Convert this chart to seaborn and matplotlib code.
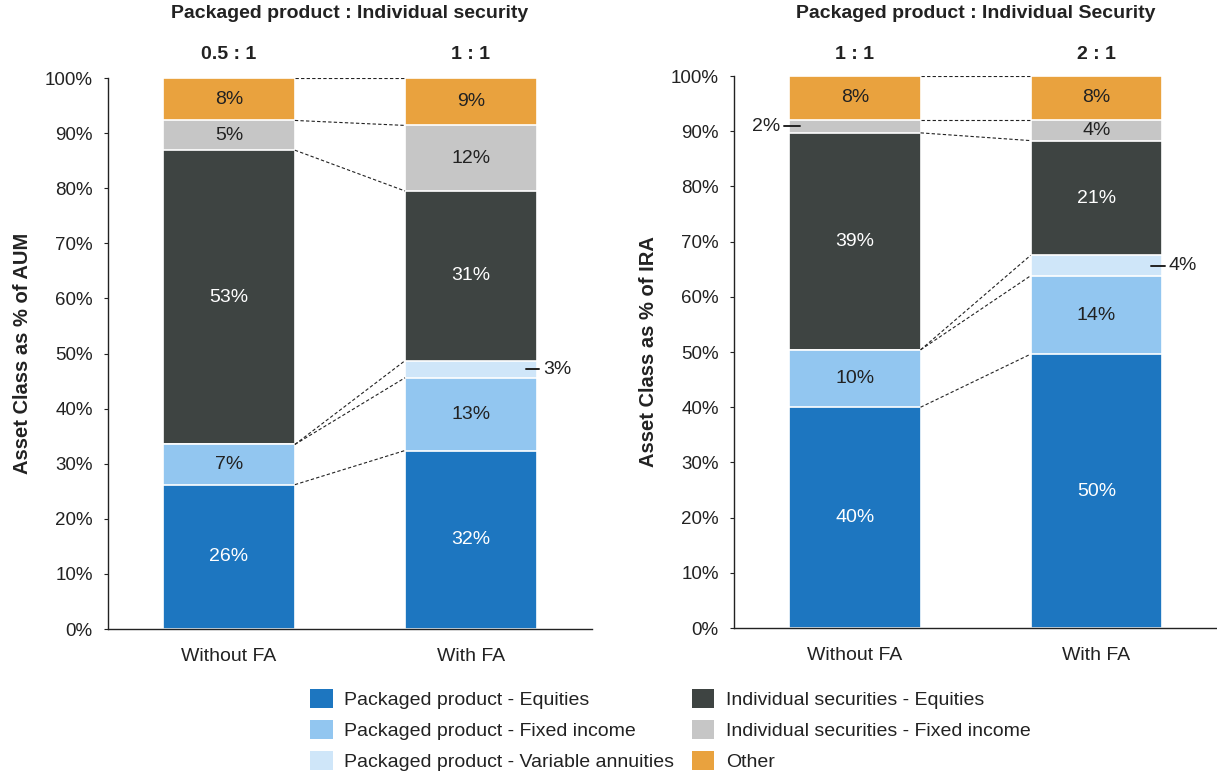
import matplotlib
matplotlib.use("Agg")
import matplotlib.pyplot as plt
import matplotlib.transforms as mtransforms
from matplotlib.patches import Patch
import numpy as np
import pandas as pd
import seaborn as sns

# ---- data -------------------------------------------------------------
groups = ["Without FA", "With FA"]

layer_names = [
    "Packaged product - Equities",
    "Packaged product - Fixed income",
    "Packaged product - Variable annuities",
    "Individual securities - Equities",
    "Individual securities - Fixed income",
    "Other",
]

# Asset class as % of AUM
pp_equities_aum = [26.2, 32.4]
pp_fixed_aum = [7.3, 13.2]
pp_va_aum = [0.0, 3.1]
is_equities_aum = [53.4, 30.8]
is_fixed_aum = [5.4, 11.9]
other_aum = [7.7, 8.6]

# Asset class as % of IRA
pp_equities_ira = [40.0, 49.6]
pp_fixed_ira = [10.4, 14.2]
pp_va_ira = [0.0, 3.7]
is_equities_ira = [39.3, 20.8]
is_fixed_ira = [2.4, 3.8]
other_ira = [7.9, 7.9]

titles = ["Packaged product : Individual security",
          "Packaged product : Individual Security"]
ratios_aum = ["0.5 : 1", "1 : 1"]
ratios_ira = ["1 : 1", "2 : 1"]
ylabels = ["Asset Class as % of AUM", "Asset Class as % of IRA"]

# ---- style ------------------------------------------------------------
colors = ["#1d76c0", "#92c6f0", "#cfe6f9", "#3e4442", "#c6c6c6", "#e9a23e"]
text_colors = ["white", "#222222", "#222222", "white", "#222222", "#222222"]

sns.set_style("ticks")
plt.rcParams["font.family"] = ["Liberation Sans", "DejaVu Sans"]
plt.rcParams["text.color"] = "#222222"
plt.rcParams["axes.labelcolor"] = "#222222"
plt.rcParams["xtick.color"] = "#222222"
plt.rcParams["ytick.color"] = "#222222"

fig = plt.figure(figsize=(12.17, 7.74), dpi=100)
ax_l = fig.add_axes([0.0887, 0.1873, 0.3977, 0.7119])
ax_r = fig.add_axes([0.6031, 0.1886, 0.3970, 0.7132])

BAR_W = 0.545
LABEL_SIZE = 14

panels = [
    (ax_l, [pp_equities_aum, pp_fixed_aum, pp_va_aum, is_equities_aum, is_fixed_aum, other_aum],
     titles[0], ratios_aum, ylabels[0],
     # (group index, layer index, side) for small segments labelled outside the bar
     [(1, 2, "right")]),
    (ax_r, [pp_equities_ira, pp_fixed_ira, pp_va_ira, is_equities_ira, is_fixed_ira, other_ira],
     titles[1], ratios_ira, ylabels[1],
     [(1, 2, "right"), (0, 4, "left")]),
]

for ax, layers, title, ratios, ylabel, callouts in panels:
    vals = np.array(layers)            # shape (layers, groups)
    tops = np.cumsum(vals, axis=0)
    bottoms = tops - vals

    # stacked bars: draw cumulative totals from the top layer downward
    for k in range(len(layers) - 1, -1, -1):
        df = pd.DataFrame({"group": groups, "value": tops[k]})
        sns.barplot(data=df, x="group", y="value", color=colors[k],
                    width=BAR_W, edgecolor="white", linewidth=1.2,
                    saturation=1, ax=ax)

    # dashed connectors between matching segment boundaries
    for k in range(len(layers)):
        ax.plot([0 + BAR_W / 2, 1 - BAR_W / 2], [tops[k][0], tops[k][1]],
                ls=(0, (3, 2)), color="#222222", lw=0.8, zorder=3)

    # value labels
    outside = {(g, k): side for g, k, side in callouts}
    for k in range(len(layers)):
        for g in range(len(groups)):
            v = vals[k][g]
            if v <= 0:
                continue
            mid = bottoms[k][g] + v / 2
            label = f"{v:.0f}%"
            if (g, k) in outside:
                if outside[(g, k)] == "right":
                    x0 = g + BAR_W / 2 - 0.045
                    ax.plot([x0, x0 + 0.055], [mid, mid], color="#222222", lw=1.4, zorder=4)
                    ax.text(x0 + 0.072, mid, label, ha="left", va="center",
                            fontsize=LABEL_SIZE, color="#222222")
                else:
                    x1 = g - BAR_W / 2 + 0.045
                    ax.plot([x1 - 0.065, x1], [mid, mid], color="#222222", lw=1.4, zorder=4)
                    ax.text(x1 - 0.08, mid, label, ha="right", va="center",
                            fontsize=LABEL_SIZE, color="#222222")
            else:
                ax.text(g, mid, label, ha="center", va="center",
                        fontsize=LABEL_SIZE, color=text_colors[k])

    ax.set_xlim(-0.5, 1.5)
    ax.set_ylim(0, 100)
    ax.set_yticks(np.arange(0, 101, 10))
    ax.set_yticklabels([f"{t}%" for t in range(0, 101, 10)])
    ax.set_xlabel("")
    ax.set_ylabel(ylabel, fontsize=14.5, fontweight="bold", labelpad=9)
    ax.tick_params(axis="y", labelsize=13.5, length=3, width=0.8, pad=8)
    ax.tick_params(axis="x", labelsize=14, length=0, pad=14)
    sns.despine(ax=ax)
    for s in ("left", "bottom"):
        ax.spines[s].set_color("#222222")
        ax.spines[s].set_linewidth(1.0)

    tr = mtransforms.blended_transform_factory(ax.transData, fig.transFigure)
    ax.text(0.5, 0.982, title, transform=tr, ha="center", va="center",
            fontsize=14, fontweight="bold")
    for g, r in enumerate(ratios):
        ax.text(g, 0.929, r, transform=tr, ha="center", va="center",
                fontsize=14, fontweight="bold")

handles = [Patch(facecolor=c, edgecolor="none") for c in colors]
fig.legend(handles, layer_names, loc="center", bbox_to_anchor=(0.551, 0.057),
           ncol=2, frameon=False, fontsize=14, handlelength=1.15, handleheight=1.15,
           handletextpad=0.6, columnspacing=0.9, labelspacing=0.55)

fig.savefig("out.png", dpi=100)
